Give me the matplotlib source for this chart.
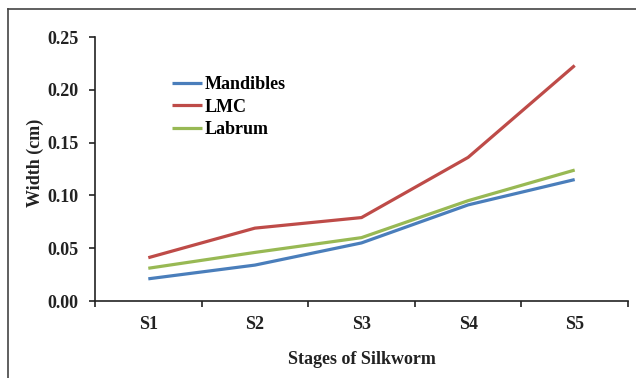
import matplotlib
matplotlib.use("Agg")
import matplotlib.pyplot as plt
import matplotlib.lines as mlines

plt.rcParams['font.family'] = ['Liberation Serif', 'DejaVu Serif']
plt.rcParams['font.weight'] = 'bold'

# data
stages = ['S1', 'S2', 'S3', 'S4', 'S5']
mandibles = [0.021, 0.034, 0.055, 0.091, 0.115]
lmc = [0.041, 0.069, 0.079, 0.136, 0.223]
labrum = [0.031, 0.046, 0.060, 0.095, 0.124]
y_ticks = [0.00, 0.05, 0.10, 0.15, 0.20, 0.25]

fig = plt.figure(figsize=(6.36, 3.78), dpi=100)
W, H = 636, 378
ax = fig.add_axes([95 / W, 1 - 301 / H, (628 - 95) / W, (301 - 37) / H])

x = list(range(1, len(stages) + 1))
ax.plot(x, mandibles, color='#4A7EBB', lw=2.3, label='Mandibles', solid_capstyle='butt')
ax.plot(x, lmc, color='#BE4B48', lw=2.3, label='LMC', solid_capstyle='butt')
ax.plot(x, labrum, color='#98B954', lw=2.3, label='Labrum', solid_capstyle='butt')

ax.set_xlim(0.5, len(stages) + 0.5)
ax.set_ylim(0, 0.25)
ax.set_yticks(y_ticks)
ax.set_yticklabels(['%.2f' % v for v in y_ticks])
ax.set_xticks(x)
ax.set_xticklabels(stages)
ax.set_xticks([i + 0.5 for i in range(len(stages) + 1)], minor=True)

for s in ['top', 'right']:
    ax.spines[s].set_visible(False)
for s in ['left', 'bottom']:
    ax.spines[s].set_linewidth(1.2)
    ax.spines[s].set_color('#222222')

ax.tick_params(axis='y', direction='out', length=4, width=1.2, pad=8, labelsize=13, colors='#222222')
ax.tick_params(axis='x', which='major', length=0, pad=11, labelsize=13, colors='#222222')
ax.tick_params(axis='x', which='minor', direction='out', length=4, width=1.2, colors='#222222')

ax.set_xlabel('Stages of Silkworm', fontsize=13, fontweight='bold', labelpad=13, color='#222222')
ax.set_ylabel('Width (cm)', fontsize=13, fontweight='bold', color='#222222')
ax.yaxis.set_label_coords(-0.095, 0.523)

ax.legend(loc='upper left', bbox_to_anchor=(0.144, 0.851), frameon=False,
          fontsize=13, handlelength=1.65, handletextpad=0.15, labelspacing=0.3,
          borderpad=0, borderaxespad=0)

# outer frame (only top and left visible in the crop)
fig.add_artist(mlines.Line2D([8 / W, 1], [1 - 9 / H, 1 - 9 / H], color='#444444', lw=1.2))
fig.add_artist(mlines.Line2D([8 / W, 8 / W], [0, 1 - 9 / H], color='#444444', lw=1.2))

fig.savefig('out.png', dpi=100)
